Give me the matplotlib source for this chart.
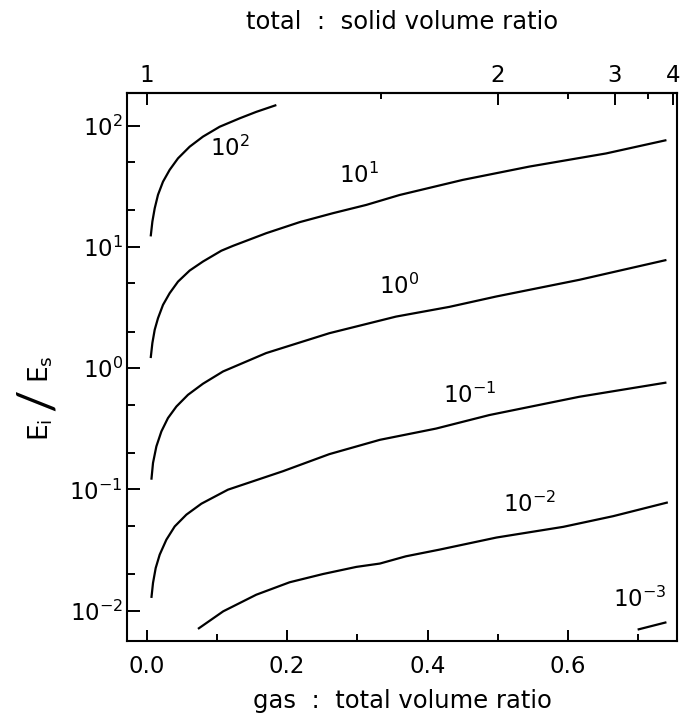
import numpy as np
import matplotlib.pyplot as plt
from matplotlib.ticker import FixedLocator, NullFormatter

# gas : total volume ratio (x) and Ei/Es (y) for each curve
x_e2 = [0.0057, 0.0081, 0.0114, 0.0161, 0.0232, 0.0327, 0.0446, 0.0612, 0.0801, 0.1039, 0.1324, 0.156, 0.1846]
y_e2 = [12.2, 16.2, 20.8, 26.9, 34.5, 43.2, 53.8, 67.1, 81.2, 98, 115, 130, 148]

x_e1 = [0.0057, 0.0081, 0.0114, 0.0161, 0.0232, 0.0327, 0.0446, 0.0612, 0.0801, 0.1063, 0.1229, 0.1703,
        0.2178, 0.2652, 0.3127, 0.3601, 0.45, 0.545, 0.654, 0.74]
y_e1 = [1.21, 1.61, 2.07, 2.58, 3.32, 4.15, 5.17, 6.38, 7.57, 9.3, 10.2, 12.97,
        16.0, 18.97, 22.2, 26.8, 35.7, 46, 59, 76]

x_e0 = [0.0067, 0.009, 0.0138, 0.0209, 0.0303, 0.0423, 0.0588, 0.0801, 0.1087, 0.17, 0.26,
        0.355, 0.431, 0.498, 0.616, 0.74]
y_e0 = [0.12, 0.165, 0.226, 0.30, 0.387, 0.482, 0.602, 0.743, 0.938, 1.33, 1.94,
        2.66, 3.2, 3.9, 5.35, 7.8]

x_em1 = [0.0067, 0.009, 0.0128, 0.0185, 0.028, 0.0399, 0.0565, 0.0779, 0.1157, 0.194, 0.26,
         0.332, 0.412, 0.488, 0.616, 0.74]
y_em1 = [0.0127, 0.0169, 0.0224, 0.0289, 0.0384, 0.0494, 0.0618, 0.0761, 0.0993, 0.141, 0.195,
         0.256, 0.317, 0.41, 0.58, 0.76]

x_em2 = [0.073, 0.109, 0.156, 0.2035, 0.251, 0.2985, 0.332, 0.369, 0.417, 0.498, 0.593, 0.664, 0.742]
y_em2 = [0.00705, 0.00985, 0.0135, 0.0171, 0.0200, 0.0229, 0.0244, 0.0280, 0.0318, 0.040, 0.049, 0.060, 0.078]

x_em3 = [0.699, 0.74]
y_em3 = [0.00696, 0.008]

curve_labels = [r"$10^{2}$", r"$10^{1}$", r"$10^{0}$", r"$10^{-1}$", r"$10^{-2}$", r"$10^{-3}$"]
label_x = [0.118, 0.303, 0.36, 0.46, 0.545, 0.702]
label_y = [65, 39, 4.7, 0.6, 0.075, 0.0123]

bottom_ticks = [0.0, 0.2, 0.4, 0.6]
top_ticks = [1, 2, 3, 4]
top_minor = [1.5, 2.5, 3.5]

plt.rcParams["mathtext.fontset"] = "dejavusans"
plt.rcParams["axes.linewidth"] = 1.5

fig = plt.figure(figsize=(6.87, 7.16), dpi=100)
ax = fig.add_axes([0.1849, 0.1047, 0.8005, 0.7654])

curves = [(x_e2, y_e2), (x_e1, y_e1), (x_e0, y_e0), (x_em1, y_em1), (x_em2, y_em2), (x_em3, y_em3)]
for cx, cy in curves:
    ax.plot(cx, cy, color="black", lw=1.6, solid_capstyle="butt", solid_joinstyle="round")

for lab, lx, ly in zip(curve_labels, label_x, label_y):
    ax.text(lx, ly, lab, fontsize=16.5, ha="center", va="center")

ax.set_yscale("log")
ax.set_xlim(-0.028, 0.755)
ax.set_ylim(0.0056, 186)

ax.set_xticks(bottom_ticks)
ax.set_xticklabels([f"{t:.1f}" for t in bottom_ticks])
ax.xaxis.set_minor_locator(FixedLocator([0.1, 0.3, 0.5, 0.7]))
ax.set_yticks([1e-2, 1e-1, 1e0, 1e1, 1e2])
ax.set_yticklabels([r"$10^{-2}$", r"$10^{-1}$", r"$10^{0}$", r"$10^{1}$", r"$10^{2}$"])
ax.yaxis.set_minor_locator(FixedLocator([m * 10.0 ** k for k in range(-3, 3) for m in (2, 5)]))
ax.yaxis.set_minor_formatter(NullFormatter())

ax.tick_params(axis="y", which="major", direction="in", length=9.5, width=1.4, labelsize=16.5, pad=3)
ax.tick_params(axis="y", which="minor", direction="in", length=6, width=1.4)
ax.tick_params(axis="x", which="major", direction="in", length=8, width=1.4, labelsize=16.5, pad=10)
ax.tick_params(axis="x", which="minor", direction="in", length=5.3, width=1.4)

ax.set_xlabel("gas  :  total volume ratio", fontsize=17.5, labelpad=8)

# y label: E_i / E_s with a long slash
fig.text(0.060, 0.400, r"$\mathregular{E_i}$", rotation=90, fontsize=19, ha="center", va="center")
fig.text(0.055, 0.442, "/", rotation=90, fontsize=36, ha="center", va="center",
         family=["Lato", "DejaVu Sans"])
fig.text(0.060, 0.484, r"$\mathregular{E_s}$", rotation=90, fontsize=19, ha="center", va="center")

sec = ax.secondary_xaxis("top", functions=(lambda x: 1.0 / (1.0 - x), lambda r: 1.0 - 1.0 / r))
sec.set_xticks(top_ticks)
sec.set_xticklabels([str(t) for t in top_ticks])
sec.xaxis.set_minor_locator(FixedLocator(top_minor))
sec.tick_params(which="major", direction="in", length=8.6, width=1.4, labelsize=16.5, pad=4.5)
sec.tick_params(which="minor", direction="in", length=4.5, width=1.4)
sec.set_xlabel("total  :  solid volume ratio", fontsize=17.5, labelpad=25)

plt.savefig("out.png", dpi=100)
